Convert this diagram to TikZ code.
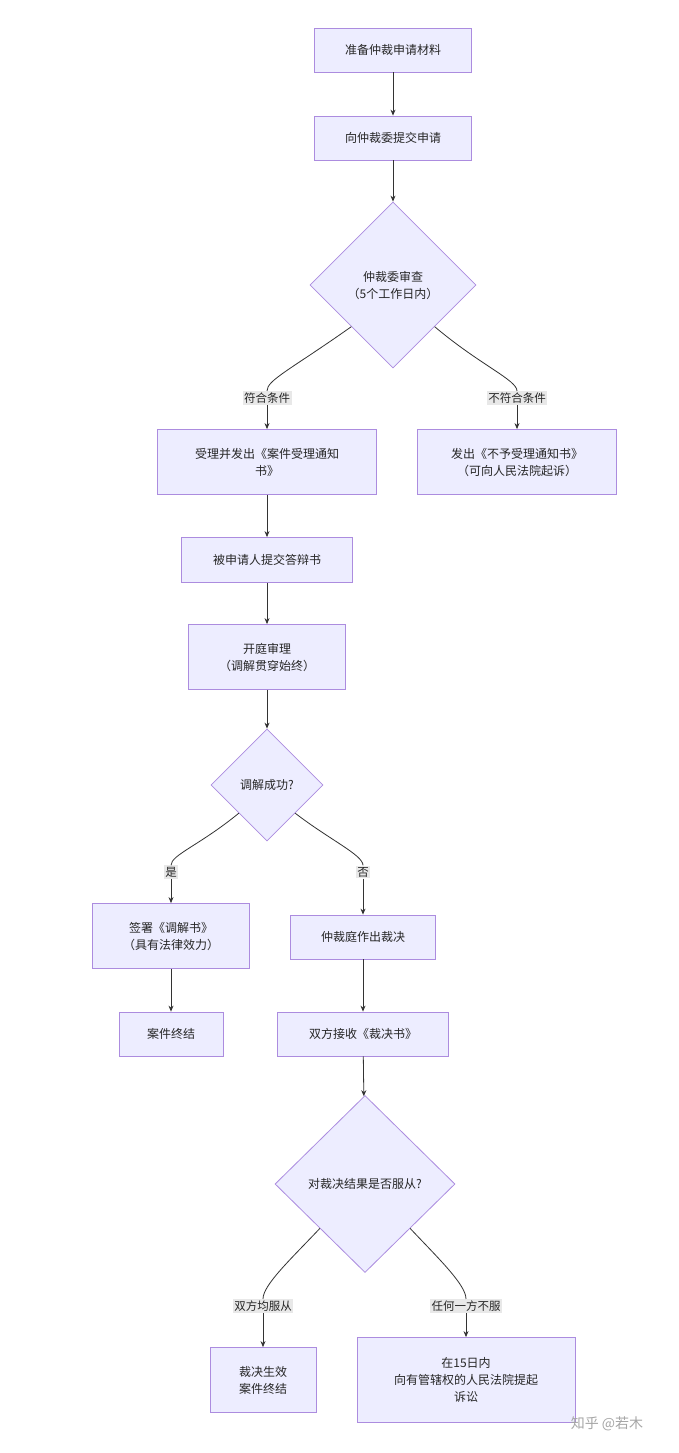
\documentclass[tikz,border=0pt]{standalone}
\usepackage{fontspec}
\setmainfont{Noto Sans CJK SC}
\usetikzlibrary{shapes.geometric,arrows.meta}
\begin{document}
\begin{tikzpicture}[x=1pt,y=-1pt,
  every node/.style={font=\fontsize{12}{17}\selectfont, text=black!85},
  box/.style={draw=violet!55!blue!45, fill=blue!7, line width=0.8pt, align=center, inner sep=0pt},
  dia/.style={diamond, draw=violet!55!blue!45, fill=blue!7, line width=0.8pt, align=center, inner sep=0pt},
  lab/.style={fill=black!9, inner sep=1.5pt, font=\fontsize{11.5}{14}\selectfont},
  ln/.style={draw=black!80, line width=0.8pt},
  arr/.style={ln, -{Stealth[length=6pt,width=5pt]}}]
\useasboundingbox (0,0) rectangle (679,1453);
\fill[white] (0,0) rectangle (679,1453);
\node[box, minimum width=157, minimum height=44] (a) at (393,50) {准备仲裁申请材料};
\node[box, minimum width=157, minimum height=44] (b) at (393,138) {向仲裁委提交申请};
\node[dia, minimum width=166, minimum height=166] (c) at (393,285) {仲裁委审查\\（5个工作日内）};
\node[box, minimum width=219, minimum height=65] (d) at (267,462) {受理并发出《案件受理通知\\书》};
\node[box, minimum width=199, minimum height=65] (e) at (517,462) {发出《不予受理通知书》\\（可向人民法院起诉）};
\node[lab] (l1) at (267,398) {符合条件};
\node[lab] (l2) at (517,398) {不符合条件};
\node[box, minimum width=171, minimum height=45] (f) at (267,560) {被申请人提交答辩书};
\node[box, minimum width=157, minimum height=65] (g) at (267,657) {开庭审理\\（调解贯穿始终）};
\node[dia, minimum width=112, minimum height=112] (h) at (267,785) {调解成功?};
\node[box, minimum width=157, minimum height=65] (i) at (171,936) {签署《调解书》\\（具有法律效力）};
\node[box, minimum width=145, minimum height=44] (j) at (363,937) {仲裁庭作出裁决};
\node[lab] (l3) at (171,872) {是};
\node[lab] (l4) at (363,872) {否};
\node[box, minimum width=104, minimum height=44] (k) at (171,1034) {案件终结};
\node[box, minimum width=171, minimum height=44] (m) at (363,1034) {双方接收《裁决书》};
\node[dia, minimum width=180, minimum height=177] (n) at (365,1184) {对裁决结果是否服从?};
\node[box, minimum width=106, minimum height=65] (o) at (263,1380) {裁决生效\\案件终结};
\node[box, minimum width=218, minimum height=85] (p) at (466,1380) {在15日内\\向有管辖权的人民法院提起\\诉讼};
\node[lab] (l5) at (263,1306) {双方均服从};
\node[lab] (l6) at (466,1306) {任何一方不服};
\node[text=black!35, font=\fontsize{14}{16}\selectfont] (w) at (607,1424) {知乎 @若木};
\draw[arr] (a) -- (b);
\draw[arr] (b) -- (c);
\draw[ln] (c.south west) .. controls (290,370) and (267,380) .. (l1.north);
\draw[arr] (l1.south) -- (d.north);
\draw[ln] (c.south east) .. controls (480,365) and (517,380) .. (l2.north);
\draw[arr] (l2.south) -- (e.north);
\draw[arr] (d) -- (f);
\draw[arr] (f) -- (g);
\draw[arr] (g) -- (h);
\draw[ln] (h.south west) .. controls (200,845) and (171,855) .. (l3.north);
\draw[arr] (l3.south) -- (i.north);
\draw[ln] (h.south east) .. controls (330,840) and (363,855) .. (l4.north);
\draw[arr] (l4.south) -- (j.north);
\draw[arr] (i) -- (k);
\draw[arr] (j) -- (m);
\draw[arr] (m) -- (n);
\draw[ln] (n.south west) .. controls (290,1260) and (263,1285) .. (l5.north);
\draw[arr] (l5.south) -- (o.north);
\draw[ln] (n.south east) .. controls (440,1260) and (466,1285) .. (l6.north);
\draw[arr] (l6.south) -- (p.north);
\end{tikzpicture}
\end{document}
